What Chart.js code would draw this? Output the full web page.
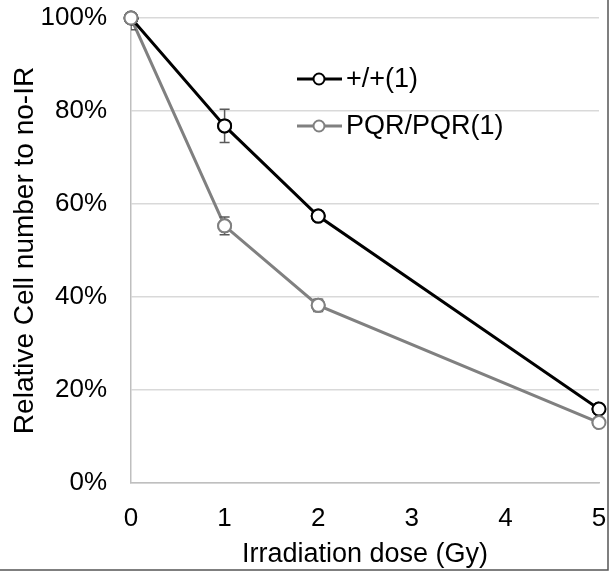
<!DOCTYPE html>
<html>
<head>
<meta charset="utf-8">
<script src="https://cdn.jsdelivr.net/npm/chart.js@4"></script>
<style>
  html, body { margin: 0; padding: 0; background: #fff; }
</style>
</head>
<body>
<canvas id="myChart" width="613" height="571"></canvas>
<script>
const doses = [0, 1, 2, 5];
const wtLabel = '+/+(1)';
const wtValues = [100, 76.8, 57.4, 15.9];
const wtErr = [1, 3.6, 1, 0.5];
const mutLabel = 'PQR/PQR(1)';
const mutValues = [100, 55.3, 38.2, 13.0];
const mutErr = [2.5, 1.9, 1.3, 0.5];
const yTicks = [0, 20, 40, 60, 80, 100];

Chart.defaults.font.family = '"Liberation Sans", Arial, sans-serif';
Chart.defaults.color = '#000';

const toPoints = (vals) => vals.map((v, i) => ({ x: doses[i], y: v }));

// error bars, clipped to the plot area
const errorBars = {
  id: 'errorBars',
  afterDatasetsDraw(chart) {
    const { ctx, chartArea, scales } = chart;
    const errs = [wtErr, mutErr];
    ctx.save();
    ctx.beginPath();
    ctx.rect(chartArea.left, chartArea.top, chartArea.right - chartArea.left, chartArea.bottom - chartArea.top);
    ctx.clip();
    ctx.strokeStyle = '#595959';
    ctx.lineWidth = 1.5;
    chart.data.datasets.forEach((ds, di) => {
      ds.data.forEach((p, i) => {
        const e = errs[di][i];
        const x = scales.x.getPixelForValue(p.x);
        const y1 = scales.y.getPixelForValue(p.y + e);
        const y2 = scales.y.getPixelForValue(p.y - e);
        ctx.beginPath();
        ctx.moveTo(x, y1); ctx.lineTo(x, y2);
        ctx.moveTo(x - 5, y1); ctx.lineTo(x + 5, y1);
        ctx.moveTo(x - 5, y2); ctx.lineTo(x + 5, y2);
        ctx.stroke();
      });
    });
    ctx.restore();
    // redraw the point markers over the bars
    chart.data.datasets.forEach((ds, di) => {
      chart.getDatasetMeta(di).data.forEach(el => el.draw(ctx));
    });
  }
};

// legend drawn inside the plot, with line + marker
const insideLegend = {
  id: 'insideLegend',
  afterDraw(chart) {
    const { ctx } = chart;
    const x0 = 297, rows = [79, 126];
    ctx.save();
    chart.data.datasets.forEach((ds, i) => {
      const y = rows[i];
      ctx.strokeStyle = ds.borderColor;
      ctx.lineWidth = 3;
      ctx.beginPath();
      ctx.moveTo(x0, y); ctx.lineTo(x0 + 45, y);
      ctx.stroke();
      ctx.beginPath();
      ctx.arc(x0 + 22, y, 5.5, 0, Math.PI * 2);
      ctx.fillStyle = '#fff';
      ctx.fill();
      ctx.lineWidth = 2;
      ctx.stroke();
      ctx.fillStyle = '#000';
      ctx.font = '27px "Liberation Sans", Arial, sans-serif';
      ctx.textBaseline = 'middle';
      ctx.fillText(ds.label, x0 + 49, y + 1);
    });
    // picture frame on right and bottom
    ctx.strokeStyle = '#555';
    ctx.lineWidth = 1.5;
    ctx.beginPath();
    ctx.moveTo(608, 0); ctx.lineTo(608, 570); ctx.lineTo(0, 570);
    ctx.stroke();
    ctx.restore();
  }
};

const ctx = document.getElementById('myChart');

new Chart(ctx, {
  type: 'line',
  data: {
    datasets: [{
      label: wtLabel,
      data: toPoints(wtValues),
      borderColor: '#000000',
      backgroundColor: '#ffffff',
      borderWidth: 3,
      pointRadius: 6.5,
      pointBorderWidth: 2,
      pointBackgroundColor: '#ffffff',
      pointBorderColor: '#000000',
      tension: 0
    }, {
      label: mutLabel,
      data: toPoints(mutValues),
      borderColor: '#808080',
      backgroundColor: '#ffffff',
      borderWidth: 3,
      pointRadius: 6.5,
      pointBorderWidth: 2,
      pointBackgroundColor: '#ffffff',
      pointBorderColor: '#808080',
      tension: 0
    }]
  },
  options: {
    responsive: false,
    animation: false,
    layout: { padding: { top: 18, right: 14, left: 0, bottom: 0 } },
    plugins: {
      legend: { display: false },
      tooltip: { enabled: false }
    },
    scales: {
      x: {
        type: 'linear',
        min: 0,
        max: 5,
        afterFit(axis) { axis.height = 88; axis.paddingLeft = 0; axis.paddingRight = 0; },
        ticks: { stepSize: 1, padding: 20, font: { size: 26 }, color: '#000' },
        grid: { display: false, drawTicks: false },
        border: { color: '#bfbfbf', width: 1.5 },
        title: {
          display: true,
          text: 'Irradiation dose (Gy)',
          font: { size: 27 },
          color: '#000',
          padding: { top: 0, bottom: 0 }
        }
      },
      y: {
        min: 0,
        max: 100,
        afterFit(axis) { axis.width = 131; axis.paddingTop = 0; axis.paddingBottom = 0; },
        afterBuildTicks(axis) { axis.ticks = yTicks.map(v => ({ value: v })); },
        ticks: {
          padding: 24,
          font: { size: 26 },
          color: '#000',
          callback: v => v + '%'
        },
        grid: {
          drawTicks: false,
          color: '#d9d9d9',
          lineWidth: 1.5
        },
        border: { color: '#bfbfbf', width: 1.5 },
        title: {
          display: true,
          text: 'Relative Cell number to no-IR',
          font: { size: 28 },
          color: '#000',
          padding: { top: 8, bottom: 0 }
        }
      }
    }
  },
  plugins: [errorBars, insideLegend]
});
</script>
</body>
</html>
